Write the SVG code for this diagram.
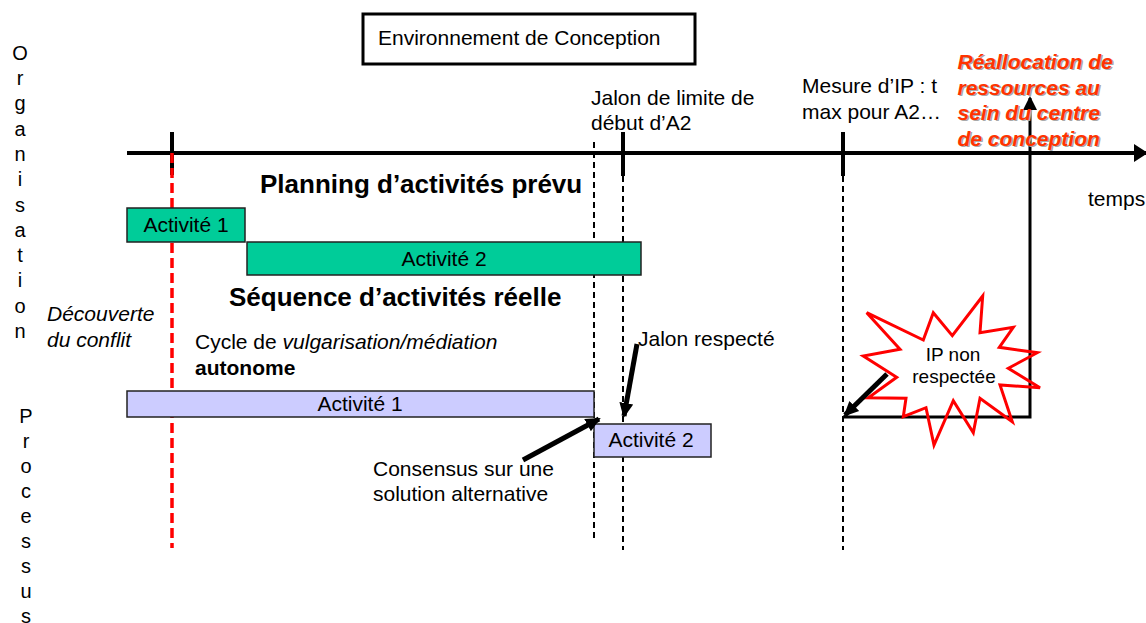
<svg xmlns="http://www.w3.org/2000/svg" width="1146" height="623" viewBox="0 0 1146 623">
<style>
text{font-family:"Liberation Sans",Arial,sans-serif;font-size:21px;fill:#000}
.b{font-weight:bold}
.i{font-style:italic}
.h{font-size:26px;font-weight:bold}
.lt{font-size:20px;text-anchor:middle}
.red{fill:#FF3300;font-weight:bold;font-style:italic}
.sh{fill:#aaaaaa;font-weight:bold;font-style:italic}
.green{fill:#00CC99;stroke:#222;stroke-width:1.5}
.purple{fill:#CCCCFF;stroke:#222;stroke-width:1.5}
.dash{stroke:#000;stroke-width:2;stroke-dasharray:6 4;fill:none}
.tick{stroke:#000;stroke-width:4}
.thick{stroke:#000;stroke-width:5;fill:none}
.mid{text-anchor:middle}
</style>
<defs>
<marker id="head" markerUnits="userSpaceOnUse" markerWidth="16" markerHeight="16" refX="13" refY="8" orient="auto" viewBox="0 0 16 16">
<path d="M0,1 L15,8 L0,15 z" fill="#000"/>
</marker>
<marker id="axishead" markerUnits="userSpaceOnUse" markerWidth="14" markerHeight="18" refX="12" refY="9" orient="auto" viewBox="0 0 14 18">
<path d="M0,0 L14,9 L0,18 z" fill="#000"/>
</marker>
<marker id="uphead" markerUnits="userSpaceOnUse" markerWidth="14" markerHeight="14" refX="12" refY="7" orient="auto" viewBox="0 0 14 14">
<path d="M0,0 L14,7 L0,14 z" fill="#000"/>
</marker>
</defs>
<rect width="1146" height="623" fill="#fff"/>

<g id="side-labels">
<text class="lt" x="20" y="60">O</text>
<text class="lt" x="20" y="85">r</text>
<text class="lt" x="20" y="110">g</text>
<text class="lt" x="20" y="136">a</text>
<text class="lt" x="20" y="161">n</text>
<text class="lt" x="20" y="186">i</text>
<text class="lt" x="20" y="212">s</text>
<text class="lt" x="20" y="237">a</text>
<text class="lt" x="20" y="262">t</text>
<text class="lt" x="20" y="287">i</text>
<text class="lt" x="20" y="313">o</text>
<text class="lt" x="20" y="338">n</text>
<text class="lt" x="26" y="423">P</text>
<text class="lt" x="26" y="448">r</text>
<text class="lt" x="26" y="473">o</text>
<text class="lt" x="26" y="498">c</text>
<text class="lt" x="26" y="523">e</text>
<text class="lt" x="26" y="548">s</text>
<text class="lt" x="26" y="573">s</text>
<text class="lt" x="26" y="598">u</text>
<text class="lt" x="26" y="623">s</text>
</g>

<g id="env">
<rect x="363" y="14" width="332" height="50" fill="#fff" stroke="#000" stroke-width="3"/>
<text x="378" y="45">Environnement de Conception</text>
</g>

<g id="connectors">
<line x1="127" y1="153" x2="1146" y2="153" stroke="#000" stroke-width="4" marker-end="url(#axishead)"/>
<line class="tick" x1="172" y1="132" x2="172" y2="175"/>
<line class="tick" x1="623" y1="132" x2="623" y2="176"/>
<line class="tick" x1="843" y1="132" x2="843" y2="176"/>
<line x1="172" y1="153" x2="172" y2="548" stroke="#FF0000" stroke-width="3.5" stroke-dasharray="10 5"/>
<line class="dash" x1="594" y1="142" x2="594" y2="540"/>
<line class="dash" x1="623" y1="176" x2="623" y2="550"/>
<line class="dash" x1="843" y1="176" x2="843" y2="550"/>
<polyline points="843,417 1030,417 1030,98" fill="none" stroke="#000" stroke-width="3" marker-end="url(#uphead)"/>
</g>

<g id="planned-a1">
<rect class="green" x="127" y="208" width="118" height="34"/>
<text class="mid" x="186" y="232">Activité 1</text>
</g>
<g id="planned-a2">
<rect class="green" x="247" y="242" width="394" height="33"/>
<text class="mid" x="444" y="266">Activité 2</text>
</g>
<g id="real-a1">
<rect class="purple" x="127" y="391" width="467" height="26"/>
<text class="mid" x="360" y="411">Activité 1</text>
</g>
<g id="real-a2">
<rect class="purple" x="594" y="424" width="117" height="33"/>
<text class="mid" x="651" y="447">Activité 2</text>
</g>

<g id="burst">
<polygon points="866.7,312.7 923.3,340 933.3,312.7 952.3,335.7 982.7,296 980,332.7 1013.3,327.3 999.3,347.3 1037.3,352.7 1008.3,368.3 1040,387.7 1000,385 1012.3,421.7 980,398.3 973.3,432.7 953.3,400.7 934,445 926,407.7 903.3,416.7 906,398.3 868.3,397.7 896.7,377.3 863.3,356 900,349.3" fill="none" stroke="#FF0000" stroke-width="3" stroke-linejoin="miter"/>
<text class="mid" x="953" y="361" style="font-size:19px">IP non</text>
<text class="mid" x="954" y="383" style="font-size:19px">respectée</text>
</g>

<g id="arrows">
<line class="thick" x1="887" y1="374" x2="845" y2="415" marker-end="url(#head)"/>
<line class="thick" x1="637" y1="344" x2="624" y2="416" marker-end="url(#head)"/>
<line class="thick" x1="523" y1="460" x2="599" y2="419" marker-end="url(#head)"/>
</g>

<g id="labels">
<text class="h" x="260" y="193">Planning d’activités prévu</text>
<text class="h" x="229" y="306">Séquence d’activités réelle</text>
<text class="i" x="47" y="321">Découverte</text>
<text class="i" x="47" y="347">du conflit</text>
<text x="195" y="349">Cycle de <tspan class="i">vulgarisation/médiation</tspan></text>
<text class="b" x="195" y="375">autonome</text>
<text x="591" y="105">Jalon de limite de</text>
<text x="591" y="130">début d’A2</text>
<text x="802" y="93">Mesure d’IP : t</text>
<text x="802" y="119">max pour A2…</text>
<text x="638" y="346">Jalon respecté</text>
<text x="373" y="476">Consensus sur une</text>
<text x="373" y="501">solution alternative</text>
<text x="1088" y="206">temps</text>
</g>

<g id="realloc">
<text class="sh" x="959" y="70">Réallocation de</text>
<text class="sh" x="959" y="96">ressources au</text>
<text class="sh" x="959" y="121">sein du centre</text>
<text class="sh" x="959" y="147">de conception</text>
<text class="red" x="957.5" y="68.5">Réallocation de</text>
<text class="red" x="957.5" y="94.5">ressources au</text>
<text class="red" x="957.5" y="119.5">sein du centre</text>
<text class="red" x="957.5" y="145.5">de conception</text>
</g>
</svg>
